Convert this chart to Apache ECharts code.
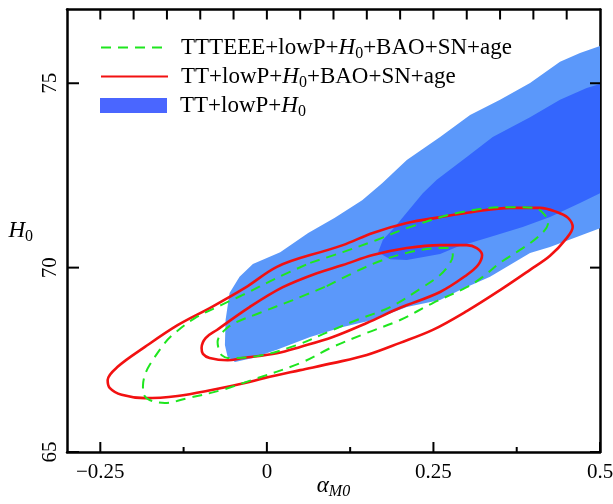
<!DOCTYPE html>
<html>
<head>
<meta charset="utf-8">
<script src="https://cdn.jsdelivr.net/npm/echarts@6/dist/echarts.min.js"></script>
<style>html,body{margin:0;padding:0;background:#fff;}#c{width:613px;height:504px;}</style>
</head>
<body>
<div id="c"></div>
<script>
// ---- data ----
const xRange = [-0.3, 0.5];
const yRange = [65, 77];
const xLabelStart = -0.25;       // first labelled bottom tick
const xMajorStep = 0.25;
const yStep = 5;
const xTicksMajor = [-0.25, 0, 0.25, 0.5];
const xTicksMinor = [-0.125, 0.125, 0.375];
const xTicksTop = [-0.25, -0.2, -0.15, -0.1, -0.05, 0, 0.05, 0.1, 0.15, 0.2, 0.25, 0.3, 0.35, 0.4, 0.45];
const yTicks = [65, 70, 75];

const seriesNames = ['TTTEEE+lowP+H0+BAO+SN+age', 'TT+lowP+H0+BAO+SN+age', 'TT+lowP+H0'];

// TT+lowP+H0 : 95% (light) and 68% (dark) regions
const blueOuter = [[-0.063,67.90],[-0.062,68.58],[-0.056,69.31],[-0.041,69.75],[-0.021,70.10],[0.020,70.42],[0.062,70.94],[0.102,71.35],[0.143,71.83],[0.173,72.29],[0.210,72.92],[0.260,73.54],[0.305,74.14],[0.350,74.55],[0.395,75.01],[0.440,75.58],[0.470,75.82],[0.500,76.01],[0.530,76.10],[0.530,70.90],[0.500,71.07],[0.425,70.56],[0.395,70.40],[0.335,69.75],[0.290,69.39],[0.260,69.12],[0.210,68.93],[0.159,68.58],[0.114,68.39],[0.065,68.12],[0.015,67.77],[-0.021,67.55],[-0.048,67.44],[-0.059,67.58]];
const blueInner = [[0.167,70.42],[0.174,70.75],[0.192,71.10],[0.234,72.02],[0.255,72.38],[0.300,73.00],[0.339,73.54],[0.395,74.08],[0.440,74.55],[0.480,74.87],[0.500,74.98],[0.530,75.05],[0.530,71.90],[0.500,72.02],[0.470,71.75],[0.425,71.37],[0.384,71.10],[0.335,70.83],[0.285,70.56],[0.260,70.37],[0.210,70.21],[0.185,70.23]];

// TT+lowP+H0+BAO+SN+age : 95% and 68% contours
const redOuter = [[0.065,70.34],[0.114,70.61],[0.159,70.94],[0.210,71.21],[0.260,71.37],[0.309,71.51],[0.365,71.62],[0.410,71.62],[0.435,71.51],[0.452,71.35],[0.459,71.10],[0.450,70.80],[0.425,70.32],[0.395,69.94],[0.350,69.39],[0.300,68.82],[0.249,68.31],[0.200,67.96],[0.150,67.63],[0.099,67.41],[0.050,67.22],[-0.003,67.01],[-0.033,66.87],[-0.083,66.68],[-0.134,66.52],[-0.183,66.46],[-0.218,66.55],[-0.236,66.74],[-0.239,66.95],[-0.224,67.31],[-0.183,67.85],[-0.134,68.44],[-0.083,68.93],[-0.033,69.45],[0.015,70.02]];
const redInner = [[0.075,69.85],[0.114,70.07],[0.159,70.34],[0.210,70.53],[0.260,70.61],[0.300,70.61],[0.315,70.53],[0.323,70.34],[0.317,70.07],[0.300,69.80],[0.260,69.34],[0.200,68.91],[0.150,68.50],[0.099,68.12],[0.050,67.85],[0.015,67.68],[-0.036,67.55],[-0.059,67.49],[-0.086,67.55],[-0.096,67.66],[-0.098,67.82],[-0.092,68.09],[-0.075,68.31],[-0.026,68.93],[0.024,69.47]];

// TTTEEE+lowP+H0+BAO+SN+age : 95% and 68% contours
const greenOuter = [[0.065,70.13],[0.114,70.42],[0.165,70.75],[0.210,71.07],[0.285,71.48],[0.360,71.64],[0.402,71.62],[0.417,71.43],[0.422,71.21],[0.410,70.88],[0.380,70.48],[0.350,70.13],[0.324,69.75],[0.300,69.47],[0.249,69.04],[0.200,68.58],[0.150,68.23],[0.099,67.85],[0.050,67.41],[-0.023,66.95],[-0.068,66.68],[-0.119,66.46],[-0.153,66.33],[-0.176,66.41],[-0.185,66.57],[-0.186,66.79],[-0.183,67.09],[-0.176,67.36],[-0.153,67.96],[-0.138,68.23],[-0.108,68.63],[-0.068,68.99],[-0.036,69.26],[0.015,69.72]];
const greenInner = [[0.090,69.50],[0.159,70.10],[0.210,70.40],[0.260,70.53],[0.272,70.53],[0.278,70.45],[0.279,70.32],[0.273,70.07],[0.260,69.80],[0.234,69.47],[0.185,68.93],[0.135,68.58],[0.095,68.28],[0.045,67.90],[-0.014,67.60],[-0.059,67.55],[-0.068,67.63],[-0.071,67.71],[-0.074,67.98],[-0.065,68.28],[-0.048,68.50],[-0.011,68.77],[0.039,69.12]];

// ---- chart ----
const F = "'Liberation Serif','DejaVu Serif',serif";
const BLACK = '#000';
const closeLoop = pts => pts.concat([pts[0]]);
const minus = v => (v < 0 ? '\u2212' + String(-v) : String(v));

// plot box in pixels
const box = {left: 67, right: 13, top: 9.5, bottom: 52};
const plotW = 613 - box.left - box.right;
const plotH = 504 - box.top - box.bottom;
const pxLabelStart = box.left + (xLabelStart - xRange[0]) / (xRange[1] - xRange[0]) * plotW;
// scale factors (data units per pixel) used to give the tick marks a pixel length
const xPerPx = (xRange[1] - xRange[0]) / plotW;
const yPerPx = (yRange[1] - yRange[0]) / plotH;

const richBase = {
  g: {width: 8},
  n: {fontFamily: F, fontSize: 23, color: BLACK, lineHeight: 28},
  i: {fontFamily: F, fontSize: 23, color: BLACK, fontStyle: 'italic', lineHeight: 28},
  s: {fontFamily: F, fontSize: 16, color: BLACK, lineHeight: 28, verticalAlign: 'bottom'}
};
function legendLabel(name) {
  const k = name.indexOf('H0');
  return '{g| }{n|' + name.slice(0, k) + '}{i|H}{s|0}' + (k + 2 < name.length ? '{n|' + name.slice(k + 2) + '}' : '');
}

function polySeries(name, polys, fills, legendColor) {
  return {
    type: 'custom', name: name, xAxisIndex: 0, yAxisIndex: 0, clip: true, z: 1,
    itemStyle: {color: legendColor},
    data: polys.map((p, i) => [i]),
    renderItem: function (params, api) {
      const i = api.value(0);
      const pts = polys[i].map(p => api.coord(p));
      return {type: 'polygon', shape: {points: pts}, style: {fill: fills[i], stroke: null}};
    },
    silent: true
  };
}
function lineSeries(name, pts, color, width, type, z) {
  return {
    type: 'line', name: name, xAxisIndex: 0, yAxisIndex: 0, data: closeLoop(pts),
    smooth: 0.35, symbol: 'none', z: z, silent: true, clip: true,
    lineStyle: {color: color, width: width, type: type},
    itemStyle: {color: color}
  };
}

// inward tick marks on all four sides, each a tiny two-point line through the axes' scales
function tickSeries(seg) {
  return {
    type: 'line', xAxisIndex: 0, yAxisIndex: 0, data: seg, symbol: 'none', silent: true,
    clip: false, z: 6, smooth: false, legendHoverLink: false,
    lineStyle: {color: BLACK, width: 2, type: 'solid'}, itemStyle: {color: BLACK}
  };
}
const ticks = []
  .concat(xTicksMajor.map(v => [[v, yRange[0]], [v, yRange[0] + 10 * yPerPx]]))
  .concat(xTicksMinor.map(v => [[v, yRange[0]], [v, yRange[0] + 5 * yPerPx]]))
  .concat(xTicksTop.map(v => [[v, yRange[1]], [v, yRange[1] - 10 * yPerPx]]))
  .concat(yTicks.map(v => [[xRange[0], v], [xRange[0] + 12 * xPerPx, v]]))
  .concat(yTicks.map(v => [[xRange[1], v], [xRange[1] - 10 * xPerPx, v]]))
  .map(tickSeries);

const axisLineStyle = {color: BLACK, width: 2.5};
const legendBase = {
  left: 100, padding: 0, orient: 'vertical', itemWidth: 67, itemHeight: 14, itemGap: 0,
  selectedMode: false, formatter: legendLabel,
  textStyle: {fontFamily: F, fontSize: 23, color: BLACK, rich: richBase}
};
const chart = echarts.init(document.getElementById('c'), null, {renderer: 'canvas'});
chart.setOption({
  backgroundColor: '#fff',
  animation: false,
  grid: [
    Object.assign({containLabel: false, outerBoundsMode: 'none'}, box),
    Object.assign({containLabel: false, outerBoundsMode: 'none'}, box, {left: pxLabelStart})
  ],
  legend: [
    Object.assign({}, legendBase, {top: 36, data: [{name: seriesNames[0], itemStyle: {opacity: 0}}]}),
    Object.assign({}, legendBase, {top: 65, data: [{name: seriesNames[1], itemStyle: {opacity: 0}}]}),
    Object.assign({}, legendBase, {top: 94, itemHeight: 15, data: [{name: seriesNames[2], icon: 'rect'}]})
  ],
  xAxis: [
    {
      gridIndex: 0, type: 'value', min: xRange[0], max: xRange[1], position: 'bottom',
      axisLine: {show: true, onZero: false, lineStyle: axisLineStyle},
      axisTick: {show: false}, axisLabel: {show: false}, splitLine: {show: false},
      name: '{i|\u03b1}{s|M0}', nameLocation: 'middle', nameGap: 20,
      nameTextStyle: {fontFamily: F, fontSize: 23, rich: {
        i: {fontFamily: F, fontSize: 23, fontStyle: 'italic', color: BLACK, lineHeight: 28},
        s: {fontFamily: F, fontSize: 16, fontStyle: 'italic', color: BLACK, lineHeight: 28, verticalAlign: 'bottom'}
      }}
    },
    {
      gridIndex: 0, type: 'value', min: xRange[0], max: xRange[1], position: 'top',
      axisLine: {show: true, onZero: false, lineStyle: axisLineStyle},
      axisTick: {show: false}, axisLabel: {show: false}, splitLine: {show: false}
    },
    {
      gridIndex: 1, type: 'value', min: xLabelStart, max: xRange[1], interval: xMajorStep, position: 'bottom',
      axisLine: {show: false, onZero: false}, axisTick: {show: false},
      axisLabel: {show: true, formatter: minus, fontFamily: F, fontSize: 21, color: BLACK, margin: 10},
      splitLine: {show: false}
    }
  ],
  yAxis: [
    {
      gridIndex: 0, type: 'value', min: yRange[0], max: yRange[1], interval: yStep, position: 'left',
      axisLine: {show: true, onZero: false, lineStyle: axisLineStyle},
      axisTick: {show: false},
      axisLabel: {show: true, showMaxLabel: false, rotate: 90, fontFamily: F, fontSize: 21, color: BLACK, margin: 6},
      splitLine: {show: false},
      name: '{i|H}{s|0}', nameLocation: 'middle', nameRotate: 0, nameGap: 34,
      nameTextStyle: {fontFamily: F, fontSize: 23, rich: richBase}
    },
    {
      gridIndex: 0, type: 'value', min: yRange[0], max: yRange[1], position: 'right',
      axisLine: {show: true, onZero: false, lineStyle: axisLineStyle},
      axisTick: {show: false}, axisLabel: {show: false}, splitLine: {show: false}
    },
    {gridIndex: 1, type: 'value', min: yRange[0], max: yRange[1], show: false}
  ],
  series: [
    polySeries(seriesNames[2], [blueOuter, blueInner], ['#5b98fa', '#3466fd'], '#4a66ff'),
    lineSeries(seriesNames[1], redOuter, '#f21111', 2.6, 'solid', 3),
    lineSeries(seriesNames[1], redInner, '#f21111', 2.6, 'solid', 3),
    lineSeries(seriesNames[0], greenOuter, '#1ee61e', 2, [10, 7], 4),
    lineSeries(seriesNames[0], greenInner, '#1ee61e', 2, [10, 7], 4)
  ].concat(ticks)
});
</script>
</body>
</html>
